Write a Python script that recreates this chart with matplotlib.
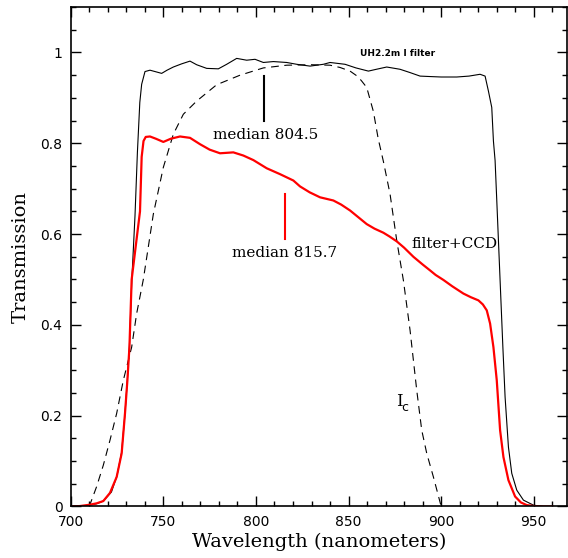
import matplotlib
matplotlib.use("Agg")
import matplotlib.pyplot as plt
from matplotlib.ticker import MultipleLocator, FuncFormatter

# UH2.2m I filter alone (thin black)
wl_filter = [700, 705, 710, 714, 717.6, 722, 725, 727.5, 729.3, 730.6, 731.7, 733,
             734.7, 736, 737.3, 738.3, 740.1, 742.8, 745.5, 749.1, 752, 755.4, 759.9,
             764.4, 768, 773.4, 779.7, 784.2, 789.6, 795, 799.5, 804, 809.4, 816.6, 822,
             829.2, 836.4, 840, 848.1, 854, 860.7, 865, 870.6, 877.8, 883, 888.6, 894,
             900, 908.4, 915, 921, 923.7, 925.5, 927.3, 928.2, 929.1, 930, 931.8, 933.3,
             934.5, 936.3, 938.1, 940.8, 944.4, 949.8, 955]
t_filter = [0, 0.001, 0.003, 0.006, 0.012, 0.032, 0.068, 0.12, 0.205, 0.28, 0.355, 0.5,
            0.64, 0.78, 0.89, 0.93, 0.958, 0.961, 0.958, 0.954, 0.961, 0.968, 0.975,
            0.981, 0.973, 0.965, 0.964, 0.974, 0.987, 0.983, 0.985, 0.978, 0.980, 0.978, 0.974,
            0.970, 0.974, 0.978, 0.974, 0.966, 0.959, 0.963, 0.968, 0.963, 0.956, 0.948, 0.947,
            0.946, 0.946, 0.948, 0.952, 0.948, 0.915, 0.879, 0.805, 0.762, 0.675, 0.498, 0.351,
            0.241, 0.131, 0.073, 0.036, 0.014, 0.003, 0.0]

# filter + CCD response (red)
wl_ccd = [700, 705, 710.4, 714, 717.6, 721.2, 724.8, 727.5, 729.3, 730.6, 731.7, 732.9,
          735, 737.4, 738.3, 739.3, 740.5, 742.8, 746, 750, 754, 759, 764.4, 769.8, 775,
          780.6, 784.2, 787.8, 793.2, 798.6, 805.8, 813, 820.2, 823.8, 829, 834.6, 841.8,
          846, 850.8, 855, 859.8, 864, 868.8, 872, 876, 880, 885, 890, 894, 897, 901.2,
          906, 912, 916, 920.1, 922.5, 924.6, 926.4, 928.2, 930, 931.8, 933.6, 936.3,
          939.9, 943, 946.2, 950, 955, 960]
t_ccd = [0, 0.001, 0.004, 0.007, 0.012, 0.03, 0.065, 0.117, 0.205, 0.278, 0.351, 0.5,
         0.57, 0.65, 0.77, 0.805, 0.814, 0.815, 0.81, 0.803, 0.81, 0.815, 0.812, 0.798, 0.786,
         0.778, 0.779, 0.780, 0.773, 0.763, 0.745, 0.732, 0.718, 0.705, 0.692, 0.681, 0.674,
         0.665, 0.652, 0.638, 0.622, 0.612, 0.603, 0.595, 0.584, 0.57, 0.55, 0.533, 0.52, 0.51, 0.499,
         0.485, 0.469, 0.461, 0.454, 0.445, 0.432, 0.403, 0.351, 0.278, 0.168, 0.109, 0.058,
         0.022, 0.009, 0.003, 0.001, 0, 0]

# Cousins Ic (dashed)
wl_ic = [710, 714, 717.6, 721.2, 724.8, 728.4, 732.9, 735.6, 739.2, 744.6, 750, 755.4,
         760.8, 768, 778.8, 791.4, 804, 816.6, 830, 840, 845.4, 850.8, 855, 857.1, 859.8,
         863.4, 866, 868.8, 872.4, 876, 879.6, 883.2, 886.8, 889.5, 892.2, 895.8, 900]
t_ic = [0, 0.044, 0.091, 0.146, 0.205, 0.278, 0.351, 0.425, 0.5, 0.644, 0.747, 0.82,
        0.864, 0.893, 0.929, 0.950, 0.966, 0.972, 0.973, 0.972, 0.967, 0.959, 0.947, 0.937, 0.923,
        0.87, 0.81, 0.76, 0.688, 0.586, 0.498, 0.388, 0.256, 0.168, 0.117, 0.065, 0.0]

median_filter = 804.5
median_ccd = 815.7

fig = plt.figure(figsize=(5.68, 5.58), dpi=100)
ax = fig.add_axes([0.1245, 0.0923, 0.874, 0.895])

ax.plot(wl_filter, t_filter, color="black", lw=0.8)
ax.plot(wl_ic, t_ic, color="black", lw=0.8, linestyle=(0, (7, 5)))
ax.plot(wl_ccd, t_ccd, color="red", lw=1.6)

# median markers
ax.plot([median_filter, median_filter], [0.85, 0.948], color="black", lw=1.5)
ax.plot([median_ccd, median_ccd], [0.589, 0.688], color="red", lw=1.5)

serif = "DejaVu Serif"
ax.text(805.3, 0.819, f"median {median_filter}", family=serif, fontsize=11, ha="center", va="center")
ax.text(815.7, 0.559, f"median {median_ccd}", family=serif, fontsize=11, ha="center", va="center")
ax.text(907, 0.578, "filter+CCD", family=serif, fontsize=11, ha="center", va="center")
ax.text(876.6, 0.997, "UH2.2m I filter", fontsize=6.5, fontweight="bold", ha="center", va="center")
ax.text(877.5, 0.232, "I", family=serif, fontsize=12, ha="center", va="center")
ax.text(880.5, 0.218, "c", fontsize=9, ha="center", va="center")

ax.set_xlim(700, 968)
ax.set_ylim(0, 1.1)
ax.xaxis.set_major_locator(MultipleLocator(50))
ax.xaxis.set_minor_locator(MultipleLocator(10))
ax.yaxis.set_major_locator(MultipleLocator(0.2))
ax.yaxis.set_minor_locator(MultipleLocator(0.05))
ax.yaxis.set_major_formatter(FuncFormatter(lambda v, p: f"{v:g}"))
ax.tick_params(which="both", direction="in", top=True, right=True, labelsize=10, width=1.0)
ax.tick_params(which="major", length=7, pad=6)
ax.tick_params(which="minor", length=3.5)
for s in ax.spines.values():
    s.set_linewidth(1.2)

ax.set_xlabel("Wavelength (nanometers)", family=serif, fontsize=14, labelpad=3)
ax.set_ylabel("Transmission", family=serif, fontsize=14, labelpad=8)

fig.savefig("out.png", dpi=100)
plt.close(fig)
